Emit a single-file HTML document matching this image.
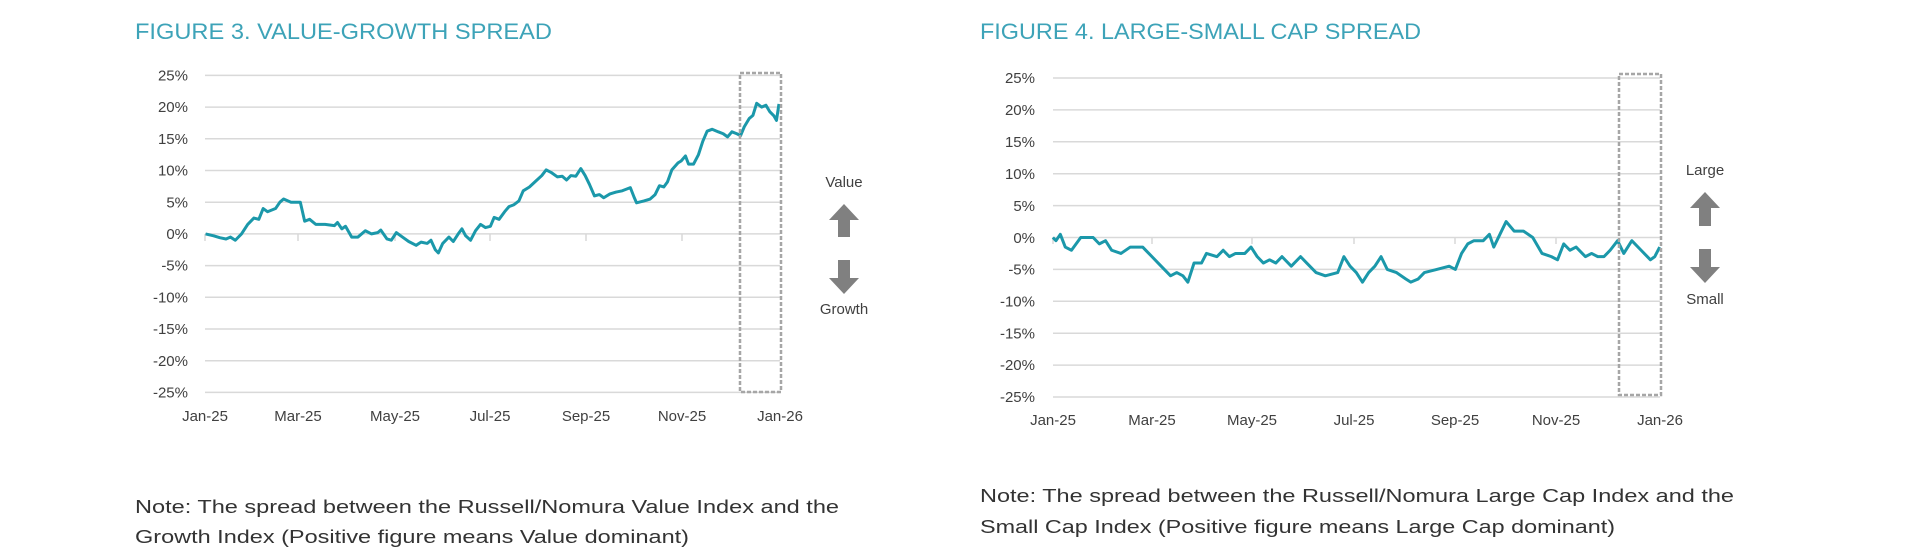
<!DOCTYPE html>
<html><head><meta charset="utf-8"><style>
html,body{margin:0;padding:0;background:#fff;width:1920px;height:553px;overflow:hidden}
svg{display:block}
text{font-family:"Liberation Sans",sans-serif}
</style></head><body>
<svg width="1920" height="553" viewBox="0 0 1920 553" xmlns="http://www.w3.org/2000/svg">
<!-- LEFT -->
<text x="135" y="39" font-size="22" fill="#3da3b8" textLength="417" lengthAdjust="spacingAndGlyphs">FIGURE 3. VALUE-GROWTH SPREAD</text>
<g stroke="#d9d9d9" stroke-width="1.5">
<line x1="205" x2="780" y1="75.4" y2="75.4"/><line x1="205" x2="780" y1="107.1" y2="107.1"/><line x1="205" x2="780" y1="138.8" y2="138.8"/><line x1="205" x2="780" y1="170.5" y2="170.5"/><line x1="205" x2="780" y1="202.2" y2="202.2"/><line x1="205" x2="780" y1="233.9" y2="233.9"/><line x1="205" x2="780" y1="265.6" y2="265.6"/><line x1="205" x2="780" y1="297.3" y2="297.3"/><line x1="205" x2="780" y1="329" y2="329"/><line x1="205" x2="780" y1="360.7" y2="360.7"/><line x1="205" x2="780" y1="392.4" y2="392.4"/>
<line x1="205" x2="205" y1="234" y2="241"/><line x1="298" x2="298" y1="234" y2="241"/><line x1="395" x2="395" y1="234" y2="241"/><line x1="490" x2="490" y1="234" y2="241"/><line x1="586" x2="586" y1="234" y2="241"/><line x1="682" x2="682" y1="234" y2="241"/>
</g>
<g font-size="15" fill="#404040" text-anchor="end">
<text x="188" y="80.5">25%</text><text x="188" y="112.2">20%</text><text x="188" y="143.9">15%</text><text x="188" y="175.6">10%</text><text x="188" y="207.3">5%</text><text x="188" y="239">0%</text><text x="188" y="270.7">-5%</text><text x="188" y="302.4">-10%</text><text x="188" y="334.1">-15%</text><text x="188" y="365.8">-20%</text><text x="188" y="397.5">-25%</text>
</g>
<g font-size="15" fill="#404040" text-anchor="middle">
<text x="205" y="421">Jan-25</text><text x="298" y="421">Mar-25</text><text x="395" y="421">May-25</text><text x="490" y="421">Jul-25</text><text x="586" y="421">Sep-25</text><text x="682" y="421">Nov-25</text><text x="780" y="421">Jan-26</text>
</g>
<g transform="matrix(0.6192,0,0,-6.34,0,233.9)">
<polyline fill="none" stroke="#1b98aa" stroke-width="3" vector-effect="non-scaling-stroke" stroke-linejoin="round" points="332,0 345,-0.3 355,-0.6 365,-0.8 372,-0.5 380,-1 390,0 400,1.5 410,2.5 418,2.3 425,4 432,3.5 445,4 452,5 458,5.5 470,5 485,5 492,2 500,2.3 510,1.5 525,1.5 540,1.3 545,1.8 552,0.8 558,1.2 568,-0.5 578,-0.5 590,0.5 600,0 610,0.2 615,0.6 625,-0.8 632,-1 640,0.2 650,-0.5 660,-1.2 672,-1.8 680,-1.3 690,-1.5 696,-1 703,-2.5 708,-3 715,-1.5 725,-0.5 732,-1.2 740,0 746,0.8 752,-0.3 760,-1 768,0.5 776,1.5 784,1 792,1.2 798,2.6 806,2.3 815,3.5 822,4.3 830,4.6 838,5.2 845,6.8 855,7.4 865,8.3 875,9.2 882,10.1 890,9.7 900,9 908,9.1 915,8.5 922,9.2 930,9.1 938,10.3 945,9.2 952,7.8 960,6 968,6.2 975,5.7 985,6.3 995,6.6 1005,6.8 1018,7.3 1024,5.8 1028,4.9 1040,5.2 1050,5.5 1058,6.2 1065,7.6 1072,7.4 1078,8.2 1085,10.1 1095,11.2 1100,11.5 1107,12.3 1112,11 1120,11 1128,12.5 1135,14.6 1142,16.2 1150,16.5 1160,16.1 1168,15.8 1175,15.3 1182,16.1 1190,15.8 1196,15.5 1202,16.9 1210,18.2 1216,18.7 1222,20.6 1230,20 1237,20.3 1243,19.3 1250,18.6 1254,17.9 1258,20.5"/>
</g>
<rect x="740" y="73" width="41" height="319" fill="none" stroke="#a6a6a6" stroke-width="2.5" stroke-dasharray="4,2"/>
<text x="844" y="187" font-size="15" fill="#404040" text-anchor="middle">Value</text>
<path d="M844 204 L859 220 L850 220 L850 237 L838 237 L838 220 L829 220 Z" fill="#808080"/>
<path d="M844 294 L859 278 L850 278 L850 260 L838 260 L838 278 L829 278 Z" fill="#808080"/>
<text x="844" y="314" font-size="15" fill="#404040" text-anchor="middle">Growth</text>
<text x="135" y="513" font-size="18" fill="#333" textLength="704" lengthAdjust="spacingAndGlyphs">Note: The spread between the Russell/Nomura Value Index and the</text>
<text x="135" y="543" font-size="18" fill="#333" textLength="554" lengthAdjust="spacingAndGlyphs">Growth Index (Positive figure means Value dominant)</text>

<!-- RIGHT -->
<text x="980" y="39" font-size="22" fill="#3da3b8" textLength="441" lengthAdjust="spacingAndGlyphs">FIGURE 4. LARGE-SMALL CAP SPREAD</text>
<g stroke="#d9d9d9" stroke-width="1.5">
<line x1="1053" x2="1660" y1="78" y2="78"/><line x1="1053" x2="1660" y1="109.9" y2="109.9"/><line x1="1053" x2="1660" y1="141.8" y2="141.8"/><line x1="1053" x2="1660" y1="173.7" y2="173.7"/><line x1="1053" x2="1660" y1="205.6" y2="205.6"/><line x1="1053" x2="1660" y1="237.5" y2="237.5"/><line x1="1053" x2="1660" y1="269.4" y2="269.4"/><line x1="1053" x2="1660" y1="301.3" y2="301.3"/><line x1="1053" x2="1660" y1="333.2" y2="333.2"/><line x1="1053" x2="1660" y1="365.1" y2="365.1"/><line x1="1053" x2="1660" y1="397" y2="397"/>
<line x1="1053" x2="1053" y1="237" y2="244"/><line x1="1152" x2="1152" y1="237" y2="244"/><line x1="1252" x2="1252" y1="237" y2="244"/><line x1="1354" x2="1354" y1="237" y2="244"/><line x1="1455" x2="1455" y1="237" y2="244"/><line x1="1556" x2="1556" y1="237" y2="244"/>
</g>
<g font-size="15" fill="#404040" text-anchor="end">
<text x="1035" y="83">25%</text><text x="1035" y="115">20%</text><text x="1035" y="147">15%</text><text x="1035" y="179">10%</text><text x="1035" y="211">5%</text><text x="1035" y="243">0%</text><text x="1035" y="274.5">-5%</text><text x="1035" y="306.5">-10%</text><text x="1035" y="338.5">-15%</text><text x="1035" y="370">-20%</text><text x="1035" y="402">-25%</text>
</g>
<g font-size="15" fill="#404040" text-anchor="middle">
<text x="1053" y="425">Jan-25</text><text x="1152" y="425">Mar-25</text><text x="1252" y="425">May-25</text><text x="1354" y="425">Jul-25</text><text x="1455" y="425">Sep-25</text><text x="1556" y="425">Nov-25</text><text x="1660" y="425">Jan-26</text>
</g>
<g transform="matrix(0.6192,0,0,-6.38,960,237.5)">
<polyline fill="none" stroke="#1b98aa" stroke-width="3" vector-effect="non-scaling-stroke" stroke-linejoin="round" points="150,0 155,-0.5 162,0.5 170,-1.5 180,-2 195,0 215,0 225,-1 235,-0.5 245,-2 260,-2.5 275,-1.5 295,-1.5 310,-3 320,-4 330,-5 340,-6 350,-5.5 360,-6 368,-7 378,-4 390,-4 398,-2.5 415,-3 425,-2 435,-3 445,-2.5 460,-2.5 470,-1.5 480,-3 490,-4 500,-3.5 510,-4 520,-3 535,-4.5 550,-3 560,-4 575,-5.5 590,-6 610,-5.5 620,-3 630,-4.5 640,-5.5 650,-7 660,-5.5 670,-4.5 680,-3 690,-5 705,-5.5 720,-6.5 728,-7 740,-6.5 750,-5.5 770,-5 790,-4.5 800,-5 810,-2.5 820,-1 830,-0.5 845,-0.5 855,0.5 862,-1.5 872,0.5 882,2.5 895,1 910,1 925,0 940,-2.5 955,-3 965,-3.5 975,-1 985,-2 995,-1.5 1010,-3 1020,-2.5 1030,-3 1040,-3 1050,-2 1062,-0.5 1072,-2.5 1085,-0.5 1100,-2 1115,-3.5 1122,-3 1130,-1.5"/>
</g>
<rect x="1619" y="74" width="42" height="321" fill="none" stroke="#a6a6a6" stroke-width="2.5" stroke-dasharray="4,2"/>
<text x="1705" y="175" font-size="15" fill="#404040" text-anchor="middle">Large</text>
<path d="M1705 192 L1720 208 L1711 208 L1711 226 L1699 226 L1699 208 L1690 208 Z" fill="#808080"/>
<path d="M1705 283 L1720 267 L1711 267 L1711 249 L1699 249 L1699 267 L1690 267 Z" fill="#808080"/>
<text x="1705" y="304" font-size="15" fill="#404040" text-anchor="middle">Small</text>
<text x="980" y="502" font-size="18" fill="#333" textLength="754" lengthAdjust="spacingAndGlyphs">Note: The spread between the Russell/Nomura Large Cap Index and the</text>
<text x="980" y="533" font-size="18" fill="#333" textLength="635" lengthAdjust="spacingAndGlyphs">Small Cap Index (Positive figure means Large Cap dominant)</text>
</svg>
</body></html>
